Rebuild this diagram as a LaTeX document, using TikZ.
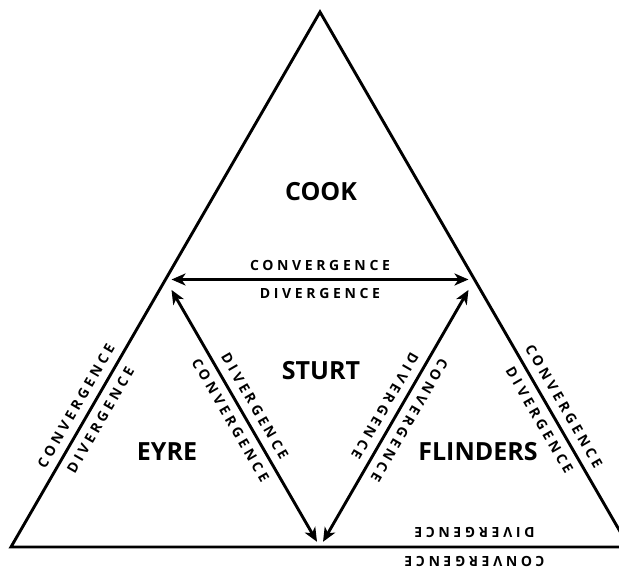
\documentclass[tikz,border=0pt]{standalone}
\usepackage{fontspec}
\usetikzlibrary{arrows.meta,calc}
\newfontfamily\namefont{Open Sans}
\newfontfamily\flowfont[LetterSpace=26]{Open Sans}
\begin{document}
\begin{tikzpicture}[
    x=1pt, y=1pt,
    line width=2.9pt, % all lines
    side/.style={line join=miter},
    flow/.style={<->, >={Stealth[length=14pt,width=12pt,inset=4pt]}},
    region/.style={font=\namefont\bfseries\fontsize{25}{25}\selectfont},
    lab/.style={midway, sloped, inner sep=0pt,
        font=\flowfont\bfseries\fontsize{14}{14}\selectfont},
    up/.style={lab, above=7.5pt},
    down/.style={lab, below=7.5pt}
]
  \useasboundingbox (0,0) rectangle (619,567);
  \clip (0,0) rectangle (619,567);
  % outer triangle and midpoints
  \coordinate (apex) at (320,555);
  \coordinate (lc) at (11,20);
  \coordinate (rc) at (629,20);
  \coordinate (ml) at ($(apex)!0.5!(lc)$);
  \coordinate (mr) at ($(apex)!0.5!(rc)$);
  \coordinate (mb) at ($(lc)!0.5!(rc)$);
  \draw[side] (apex) -- (lc) -- (rc) -- cycle;
  % inner arrows
  \draw[flow, shorten <=6pt, shorten >=6pt] (ml) -- (mr);
  \draw[flow, shorten <=12pt, shorten >=6pt] (ml) -- (mb);
  \draw[flow, shorten <=12pt, shorten >=6pt] (mr) -- (mb);
  % region names
  \node[region] (cook) at (321,375) {COOK};
  \node[region] (sturt) at (321,196) {STURT};
  \node[region] (eyre) at (167,115) {EYRE};
  \node[region] (flinders) at (478,115) {FLINDERS};
  % labels along the lines
  \path[allow upside down] (ml) -- (mr)
    node[up] {CONVERGENCE} node[down] {DIVERGENCE};
  \path[allow upside down] (lc) -- (ml)
    node[up] {CONVERGENCE} node[down] {DIVERGENCE};
  \path[allow upside down] (ml) -- (mb)
    node[up] {DIVERGENCE} node[down] {CONVERGENCE};
  \path[allow upside down] (mr) -- (mb)
    node[up] {CONVERGENCE} node[down] {DIVERGENCE};
  \path[allow upside down] (mr) -- (rc)
    node[up] {CONVERGENCE} node[down] {DIVERGENCE};
  \path[allow upside down] (rc) -- (mb)
    node[up] {CONVERGENCE} node[down] {DIVERGENCE};
\end{tikzpicture}
\end{document}
